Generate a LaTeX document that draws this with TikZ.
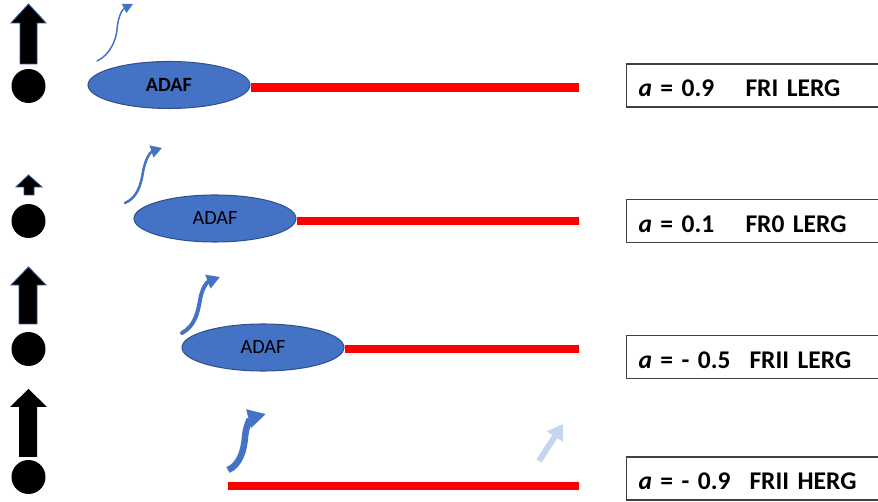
\documentclass[tikz,border=0pt]{standalone}
\usepackage{fontspec}
\setmainfont{Carlito}
\usepackage{tikz}
\usetikzlibrary{shapes.geometric,arrows.meta}

\definecolor{adafblue}{HTML}{4472C4}
\definecolor{adafedge}{HTML}{2F528F}
\definecolor{paleblue}{HTML}{C5D5EE}

\begin{document}
\begin{tikzpicture}[
    x=0.02cm, y=-0.02cm,
    bh/.style={circle, fill=black, minimum size=0.68cm, inner sep=0},
    spinarrow/.style={fill=black, draw=adafedge, line width=0.5pt, line join=miter},
    adaf/.style={ellipse, fill=adafblue, draw=adafedge, line width=0.6pt, minimum width=3.24cm, minimum height=0.94cm, inner sep=0, font=\fontsize{11.5pt}{13pt}\selectfont},
    jet/.style={red, line width=0.17cm},
    wind/.style={adafblue, line cap=round},
    box/.style={rectangle, draw=black!75, line width=0.6pt, anchor=west, text width=4.92cm, align=left, inner xsep=0.24cm, inner ysep=0, minimum height=0.86cm, text height=0.46cm, text depth=0cm, font=\fontsize{14.5pt}{16pt}\selectfont\bfseries},
]
\clip (0,0) rectangle (878,502);

% a = 0.9
\filldraw[spinarrow] (20,64) -- (20,23) -- (11,23) -- (28.5,4) -- (46,23) -- (37,23) -- (37,64) -- cycle;
\node[bh] (bh1) at (28.5,86) {};
\draw[wind, line width=0.03cm, -{Triangle[length=0.2cm, width=0.2cm]}] (97,61) .. controls (110,55) and (116,40) .. (117,30) .. controls (118,15) and (123,9) .. (133,4);
\node[adaf, font=\fontsize{11.5pt}{13pt}\selectfont\bfseries] (adaf1) at (169,85) {ADAF};
\coordinate (jet1) at (579,87.5);
\draw[jet] (adaf1.east |- jet1) -- (jet1);
\node[box] (lab1) at (626,85.5) {\makebox[2.14cm][l]{\textit{a} = 0.9}FRI LERG};

% a = 0.1
\filldraw[spinarrow] (24,195) -- (24,187) -- (16,187) -- (28.5,175) -- (42,187) -- (34,187) -- (34,195) -- cycle;
\node[bh] (bh2) at (28.5,221) {};
\draw[wind, line width=0.05cm, -{Triangle[length=0.22cm, width=0.24cm]}] (125,203) .. controls (137,198) and (141,185) .. (143,172) .. controls (145,160) and (150,152) .. (162,148);
\node[adaf] (adaf2) at (215,218.5) {ADAF};
\coordinate (jet2) at (579,221);
\draw[jet] (adaf2.east |- jet2) -- (jet2);
\node[box] (lab2) at (626,221) {\makebox[2.14cm][l]{\textit{a} = 0.1}FR0 LERG};

% a = -0.5
\filldraw[spinarrow] (19,324) -- (19,285) -- (11,285) -- (28.5,267) -- (46,285) -- (37,285) -- (37,324) -- cycle;
\node[bh] (bh3) at (28.5,349) {};
\draw[wind, line width=0.08cm, -{Triangle[length=0.26cm, width=0.28cm]}] (182,333) .. controls (195,326) and (198,312) .. (200,300) .. controls (202,288) and (207,282) .. (220,277);
\node[adaf] (adaf3) at (263,347.5) {ADAF};
\coordinate (jet3) at (579,349);
\draw[jet] (adaf3.east |- jet3) -- (jet3);
\node[box] (lab3) at (626,357) {\makebox[2.22cm][l]{\textit{a} = - 0.5}FRII LERG};

% a = -0.9
\fill[black] (19,457) -- (19,407) -- (10,407) -- (28.5,389) -- (47,407) -- (37,407) -- (37,457) -- cycle;
\node[bh] (bh4) at (28.5,477) {};
\draw[wind, line width=0.13cm, line cap=butt, -{Triangle[length=0.36cm, width=0.36cm]}] (228,470) .. controls (240,465) and (244,450) .. (245,437) .. controls (246,425) and (251,418) .. (266,414);
\draw[paleblue, line width=0.12cm, -{Triangle[length=0.3cm, width=0.36cm]}] (539,461) -- (563,424);
\coordinate (jet4a) at (228,486);
\coordinate (jet4b) at (579,486);
\draw[jet] (jet4a) -- (jet4b);
\node[box] (lab4) at (626,478.5) {\makebox[2.22cm][l]{\textit{a} = - 0.9}FRII HERG};

\end{tikzpicture}
\end{document}
